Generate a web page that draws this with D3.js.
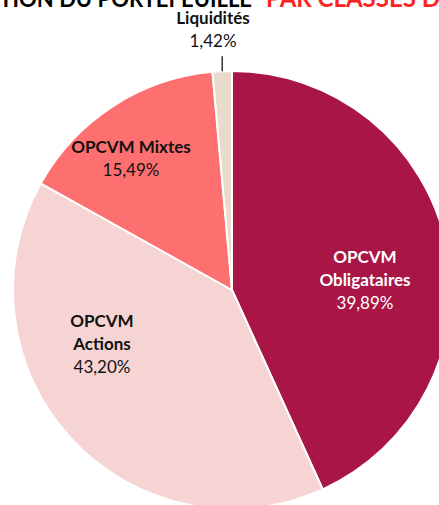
<!DOCTYPE html>
<html>
<head>
<meta charset="utf-8">
<script src="https://cdn.jsdelivr.net/npm/d3@7"></script>
<style>
  html, body { margin: 0; padding: 0; background: #fff; }
  svg { display: block; }
  text { font-family: Lato, "Open Sans", sans-serif; }
</style>
</head>
<body>
<svg id="chart" width="439" height="505"></svg>
<script>
'use strict';

// slices, clockwise from 12 o'clock
let categories = ["Obligataires", "Actions", "Mixtes", "Liquidités"];
let labelLines = [["OPCVM", "Obligataires"], ["OPCVM", "Actions"], ["OPCVM Mixtes"], ["Liquidités"]];
let shares = [43.20, 39.89, 15.49, 1.42];          // angular size of each slice as drawn
let shownPct = ["39,89%", "43,20%", "15,49%", "1,42%"]; // percentage text printed on each slice
let colors = ["#A91646", "#F6D4D4", "#FE6F6F", "#E9DACC"];
let textColors = ["#ffffff", "#111111", "#111111", "#111111"];

// label anchors relative to pie centre (x, first baseline)
let labelPos = [[133, -27], [-130, 37], [-101, -137], [-19, -266]];

let svg = d3.select("#chart"),
    cx = 232, cy = 290, radius = 219;

// title (cropped at top of the picture)
svg.append("text")
    .attr("x", 252)
    .attr("y", 7)
    .attr("text-anchor", "end")
    .style("font-size", "22px")
    .style("font-weight", "bold")
    .attr("fill", "#000")
    .text("RÉPARTITION DU PORTEFEUILLE");
svg.append("text")
    .attr("x", 266)
    .attr("y", 7)
    .style("font-size", "24px")
    .style("font-weight", "bold")
    .attr("fill", "#FF2222")
    .text("PAR CLASSES D'ACTIFS");

let pie = d3.pie()
    .sort(null)
    .value(d => d);

let arc = d3.arc()
    .innerRadius(0)
    .outerRadius(radius);

let g = svg.append("g")
    .attr("transform", "translate(" + cx + "," + cy + ")");

g.selectAll("path")
    .data(pie(shares))
    .enter()
    .append("path")
    .attr("d", arc)
    .attr("fill", (d, i) => colors[i])
    .attr("stroke", "#fff")
    .attr("stroke-width", 2)
    .attr("stroke-linejoin", "round");

// leader line for the small slice
let small = pie(shares)[3];
let midA = (small.startAngle + small.endAngle) / 2;
let lx = Math.sin(midA) * radius;
g.append("line")
    .attr("x1", lx)
    .attr("x2", lx)
    .attr("y1", -Math.cos(midA) * radius)
    .attr("y2", -Math.cos(midA) * radius - 15)
    .attr("stroke", "#333")
    .attr("stroke-width", 1.5);

let lineH = 23;
categories.forEach((c, i) => {
    let t = g.append("text")
        .attr("text-anchor", "middle")
        .attr("fill", textColors[i])
        .style("font-size", "17px");
    let lines = labelLines[i];
    lines.forEach((l, j) => {
        t.append("tspan")
            .attr("x", labelPos[i][0])
            .attr("y", labelPos[i][1] + j * lineH)
            .style("font-weight", "bold")
            .text(l);
    });
    t.append("tspan")
        .attr("x", labelPos[i][0])
        .attr("y", labelPos[i][1] + lines.length * lineH)
        .text(shownPct[i]);
});
</script>
</body>
</html>
